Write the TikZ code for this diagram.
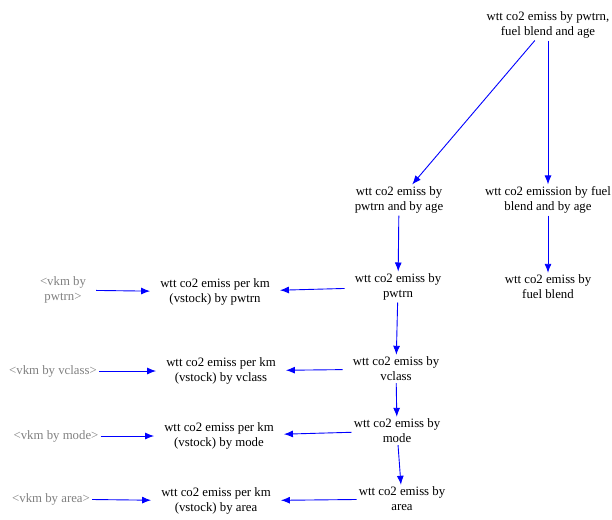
\documentclass[tikz,border=0pt]{standalone}
\usepackage{fontspec}
\setmainfont{Liberation Serif}
\usetikzlibrary{arrows.meta}
\begin{document}
\begin{tikzpicture}[x=1pt,y=-1pt,
  lbl/.style={align=center,font=\fontsize{12.8}{15}\selectfont,inner sep=2pt,text=black},
  perkm/.style={lbl,inner xsep=10pt},
  shadowvar/.style={lbl,text=gray},
  link/.style={draw=blue,line width=0.9pt,-{Latex[length=9pt,width=7pt]}}]
\useasboundingbox (0,0) rectangle (612,519);
\node[lbl] (top) at (548,25) {wtt co2 emiss by pwtrn,\\fuel blend and age};
\node[lbl] (pwage) at (399,200) {wtt co2 emiss by\\pwtrn and by age};
\node[lbl] (fbage) at (548,200) {wtt co2 emission by fuel\\blend and by age};
\node[lbl] (pw) at (398,287) {wtt co2 emiss by\\pwtrn};
\node[lbl] (fb) at (548,287) {wtt co2 emiss by\\fuel blend};
\node[lbl] (vc) at (396,369) {wtt co2 emiss by\\vclass};
\node[lbl] (md) at (397,431) {wtt co2 emiss by\\mode};
\node[lbl] (ar) at (402,499) {wtt co2 emiss by\\area};
\node[perkm] (kpw) at (215,292) {wtt co2 emiss per km\\(vstock) by pwtrn};
\node[perkm] (kvc) at (221,371) {wtt co2 emiss per km\\(vstock) by vclass};
\node[perkm] (kmd) at (219,436) {wtt co2 emiss per km\\(vstock) by mode};
\node[perkm] (kar) at (216,501) {wtt co2 emiss per km\\(vstock) by area};
\node[shadowvar] (vpw) at (63,290) {<vkm by\\pwtrn>};
\node[shadowvar] (vvc) at (53,371) {<vkm by vclass>};
\node[shadowvar] (vmd) at (56,436) {<vkm by mode>};
\node[shadowvar] (var) at (51,499) {<vkm by area>};
\draw[link] (top) -- (pwage);
\draw[link] (top) -- (fbage);
\draw[link] (pwage) -- (pw);
\draw[link] (fbage) -- (fb);
\draw[link] (pw) -- (vc);
\draw[link] (vc) -- (md);
\draw[link] (md) -- (ar);
\draw[link,shorten <=8pt] (pw) -- (kpw);
\draw[link,shorten <=8pt] (vc) -- (kvc);
\draw[link] (md) -- (kmd);
\draw[link] (ar) -- (kar);
\draw[link,shorten <=8pt] (vpw) -- (kpw);
\draw[link] (vvc) -- (kvc);
\draw[link] (vmd) -- (kmd);
\draw[link] (var) -- (kar);
\end{tikzpicture}
\end{document}
